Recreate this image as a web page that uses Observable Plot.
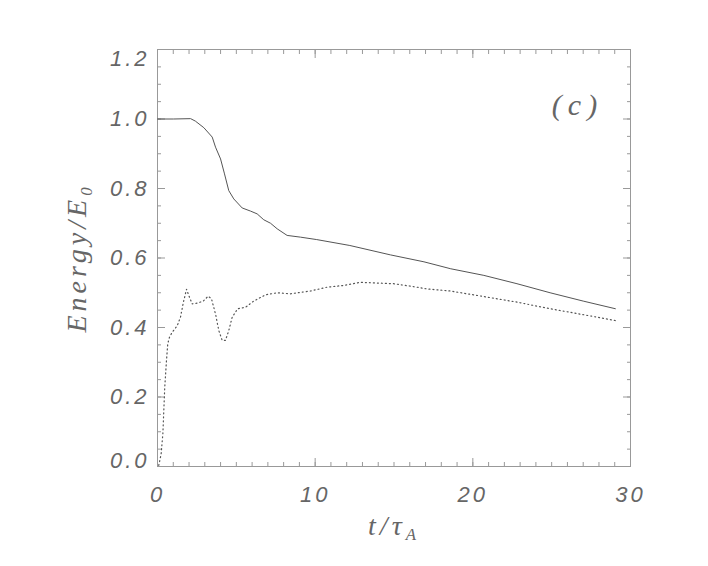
<!DOCTYPE html>
<html><head><meta charset="utf-8">
<script src="https://cdn.jsdelivr.net/npm/d3@7"></script>
<script src="https://cdn.jsdelivr.net/npm/@observablehq/plot@0.6"></script>
<style>
body{margin:0;background:#fff}
#chart svg{font-family:"Liberation Sans",sans-serif;}
</style>
</head><body><div id="chart"></div>
<script>
// Solid curve: total energy
const totalT = [0,1.0,2.1,2.4,2.94,3.47,3.68,4.0,4.25,4.52,4.84,5.37,5.9,6.32,6.74,7.17,7.59,8.22,9.07,10.1,12.2,14.77,16.9,18.6,20.7,22.8,24.9,27.0,29.04];
const totalE = [1.0,1.0,1.001,0.994,0.975,0.948,0.919,0.885,0.842,0.794,0.770,0.744,0.735,0.727,0.710,0.700,0.684,0.665,0.660,0.653,0.636,0.609,0.589,0.569,0.550,0.526,0.500,0.476,0.454];
// Dotted curve
const dotT = [0.08,0.23,0.34,0.40,0.46,0.57,0.65,0.76,0.93,1.25,1.46,1.63,1.84,2.03,2.2,2.52,2.9,3.21,3.42,3.68,3.89,4.1,4.31,4.52,4.74,5.09,5.58,6.1,6.85,7.59,8.43,9.7,10.76,11.8,12.87,13.93,14.98,16.04,17.1,18.58,20.7,22.8,24.9,27.0,29.04];
const dotE = [0.003,0.036,0.094,0.161,0.228,0.305,0.353,0.372,0.386,0.405,0.430,0.470,0.510,0.487,0.468,0.470,0.476,0.490,0.483,0.439,0.391,0.363,0.363,0.391,0.430,0.454,0.458,0.476,0.494,0.500,0.497,0.505,0.516,0.521,0.530,0.528,0.526,0.519,0.511,0.505,0.489,0.473,0.454,0.437,0.420];

const xMajor = [0,10,20,30];
const xMinor = d3.range(0,31,1);
const yMajor = [0,0.2,0.4,0.6,0.8,1.0,1.2];
const yMinor = d3.range(0,1.2001,0.05);
const yLabelsMid = [0.2,0.4,0.6,0.8,1.0];
const xLabel = "t/τA";
const yLabel = "Energy/E0";
const panelLabel = "(c)";

const total = totalT.map((t,i)=>({t, e: totalE[i]}));
const dotted = dotT.map((t,i)=>({t, e: dotE[i]}));

const tickColor = "#999";
const textColor = "#666";
const fmt = d3.format(".1f");
const none = () => "";
const tickFont = {fontSize: 22, fontStyle: "italic", fontFamily: "Liberation Sans, sans-serif"};
const serif = {fontStyle: "italic", fontFamily: "Liberation Serif, serif", fill: textColor, textAnchor: "middle"};

const plot = Plot.plot({
  width: 708, height: 566,
  marginLeft: 157, marginRight: 78, marginTop: 49, marginBottom: 100,
  x: {domain: [0,30], label: null},
  y: {domain: [0,1.2], label: null},
  marks: [
    Plot.frame({stroke: tickColor}),
    // inward ticks on all four sides
    ...["bottom","top"].flatMap(a => [
      Plot.axisX(xMinor, {anchor: a, tickSize: -4, tickFormat: none, stroke: tickColor, label: null}),
      Plot.axisX(xMajor, {anchor: a, tickSize: -8, tickFormat: none, stroke: tickColor, label: null})
    ]),
    ...["left","right"].flatMap(a => [
      Plot.axisY(yMinor, {anchor: a, tickSize: -4, tickFormat: none, stroke: tickColor, label: null}),
      Plot.axisY(yMajor, {anchor: a, tickSize: -8, tickFormat: none, stroke: tickColor, label: null})
    ]),
    // tick labels
    Plot.axisX(xMajor, {anchor: "bottom", tickSize: 0, tickPadding: 20, fill: textColor, label: null, ...tickFont}),
    Plot.axisY(yLabelsMid, {anchor: "left", tickSize: 0, tickPadding: 8, tickFormat: fmt, fill: textColor, label: null, ...tickFont}),
    Plot.axisY([0], {anchor: "left", tickSize: 0, tickPadding: 8, tickFormat: fmt, fill: textColor, label: null, dy: -6, ...tickFont}),
    Plot.axisY([1.2], {anchor: "left", tickSize: 0, tickPadding: 8, tickFormat: fmt, fill: textColor, label: null, dy: 9, ...tickFont}),
    // data
    Plot.line(total, {x: "t", y: "e", stroke: "#555", strokeWidth: 1}),
    Plot.line(dotted, {x: "t", y: "e", stroke: "#555", strokeWidth: 1.2, strokeDasharray: "1 3"}),
    // labels
    Plot.text([xLabel], {frameAnchor: "bottom", dy: 68, text: d => d, fontSize: 28, ...serif}),
    Plot.text([yLabel], {frameAnchor: "left", dx: -80, rotate: -90, text: d => d, fontSize: 28, ...serif}),
    Plot.text([panelLabel], {frameAnchor: "top-right", dx: -53, dy: 44, text: d => d, fontSize: 30, ...serif})
  ]
});
document.getElementById("chart").append(plot);

// letter spacing to mimic the wide stroke font
d3.select(plot).selectAll("text").each(function(){
  const el = d3.select(this);
  const s = el.text();
  if (s === xLabel || s === yLabel) el.attr("letter-spacing", 4);
  else if (s === panelLabel) el.attr("letter-spacing", 6);
  else el.attr("letter-spacing", 3);
});

// subscripts
d3.select(plot).selectAll("text").each(function(){
  const el = d3.select(this);
  const s = el.text();
  let base = null, sub = null;
  if (s === xLabel) { base = "t/τ"; sub = "A"; }
  else if (s === yLabel) { base = "Energy/E"; sub = "0"; }
  if (base !== null) {
    el.text(null);
    el.append("tspan").text(base);
    el.append("tspan").attr("font-size", "0.6em").attr("dy", "0.3em").text(sub);
  }
});
</script>
</body></html>
